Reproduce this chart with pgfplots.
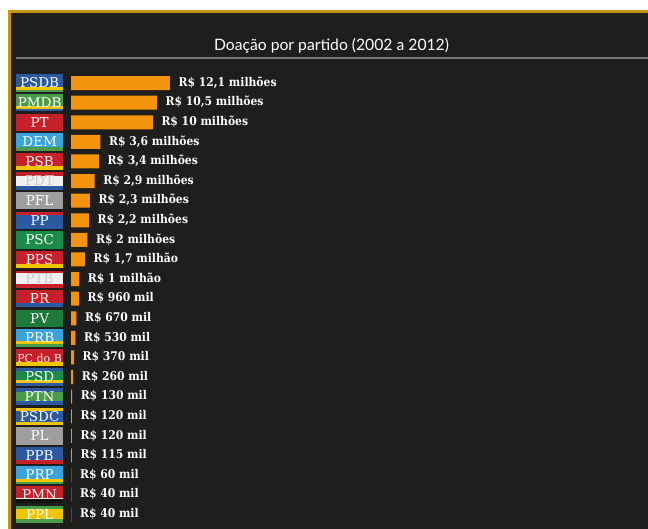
\documentclass[border=0pt]{standalone}
\usepackage{pgfplots}
\pgfplotsset{compat=1.18}
\usepackage{pgfplotstable}
\usepackage{fontspec}
\setmainfont{DejaVu Serif}
\newfontfamily\latofont{Lato}
\IfFontExistsTF{DejaVu Serif Condensed}{%
  \newfontfamily\slab{DejaVu Serif Condensed}\newcommand\slabsize{12}}{%
  \newfontfamily\slab{DejaVu Serif}\newcommand\slabsize{11}}
\definecolor{panel}{HTML}{1E1E1C}
\definecolor{gold}{HTML}{C8940C}
\definecolor{barorange}{HTML}{F4940C}
\definecolor{rulegray}{HTML}{7A7A7A}
\definecolor{pblue}{HTML}{2B5AA3}
\definecolor{pyellow}{HTML}{F2C500}
\definecolor{pgreen}{HTML}{4A9C48}
\definecolor{pgreenb}{HTML}{1A8C48}
\definecolor{pgreenc}{HTML}{1D7A3C}
\definecolor{pred}{HTML}{C8202A}
\definecolor{plblue}{HTML}{3BA3DC}
\definecolor{pgray}{HTML}{9E9E9E}
\definecolor{pwhite}{HTML}{F0F0F0}
\definecolor{pblack}{HTML}{111111}
\newcommand\stripe[2]{{\color{#1}\hrule height #2bp depth 0pt width 47bp}}
\newcommand\flag[3][13.5]{\rlap{\vbox{\offinterlineskip #2}}%
  \makebox[47bp][c]{\raisebox{4bp}{\color{white}\fontsize{#1bp}{#1bp}\selectfont #3}}}

\pgfplotstableread[col sep=semicolon]{
r;v;lab
22;12.1;R\$ 12,1 milhões
21;10.5;R\$ 10,5 milhões
20;10;R\$ 10 milhões
19;3.6;R\$ 3,6 milhões
18;3.4;R\$ 3,4 milhões
17;2.9;R\$ 2,9 milhões
16;2.3;R\$ 2,3 milhões
15;2.2;R\$ 2,2 milhões
14;2;R\$ 2 milhões
13;1.7;R\$ 1,7 milhão
12;1;R\$ 1 milhão
11;0.96;R\$ 960 mil
10;0.67;R\$ 670 mil
9;0.53;R\$ 530 mil
8;0.37;R\$ 370 mil
7;0.26;R\$ 260 mil
6;0.13;R\$ 130 mil
5;0.12;R\$ 120 mil
4;0.12;R\$ 120 mil
3;0.115;R\$ 115 mil
2;0.06;R\$ 60 mil
1;0.04;R\$ 40 mil
0;0.04;R\$ 40 mil
}\doacoes

\begin{document}
\begin{tikzpicture}[x=1bp,y=1bp]
\useasboundingbox (0,0) rectangle (648,529);
\fill[white] (0,0) rectangle (648,529);
\fill[panel] (8,0) rectangle (648,518);
\draw[gold, line width=2.5bp] (9.25,0) -- (9.25,517.5) -- (648,517.5);
\node[text=white, font=\latofont\fontsize{15.7bp}{18bp}\selectfont] at (331.5,483.5) {Doação por partido (2002 a 2012)};
\draw[rulegray, line width=2bp] (16,471) -- (648,471);
\begin{axis}[
  anchor=origin, at={(71bp,14.7bp)},
  x=8.18bp, y=19.6bp,
  xmin=0, xmax=50, ymin=-0.5, ymax=22.5,
  clip=false,
  axis line style={draw=none},
  tick style={draw=none},
  major tick length=0pt,
  xtick=\empty,
  ytick={0,1,...,22},
  yticklabels={
    {\flag{\stripe{pgreen}{3.5}\stripe{pyellow}{10}\stripe{pgreen}{4}}{PPL}},
    {\flag{\stripe{pred}{12.5}\stripe{pwhite}{0.6}\stripe{pblack}{4.4}}{PMN}},
    {\flag{\stripe{plblue}{12.5}\stripe{pyellow}{3}\stripe{pgreen}{2}}{PRP}},
    {\flag{\stripe{pblue}{13.5}\stripe{pred}{4}}{PPB}},
    {\flag{\stripe{pgray}{17.5}}{PL}},
    {\flag{\stripe{pyellow}{3}\stripe{pblue}{11.5}\stripe{pyellow}{3}}{PSDC}},
    {\flag{\stripe{pblue}{4.5}\stripe{pgreen}{8.5}\stripe{pblue}{4.5}}{PTN}},
    {\flag{\stripe{pblue}{2.5}\stripe{pgreenb}{9}\stripe{pyellow}{3.5}\stripe{pblue}{2.5}}{PSD}},
    {\flag[11]{\stripe{pred}{13}\stripe{pyellow}{4.5}}{PC do B}},
    {\flag{\stripe{plblue}{11.5}\stripe{pyellow}{3.5}\stripe{pgreen}{2.5}}{PRB}},
    {\flag{\stripe{pgreenc}{17.5}}{PV}},
    {\flag{\stripe{pred}{13.5}\stripe{pblue}{4}}{PR}},
    {\flag{\stripe{pblack}{1}\stripe{pred}{1.5}\stripe{pwhite}{11}\stripe{pred}{4}}{\color{white!80!black}PTB}},
    {\flag{\stripe{pred}{13.5}\stripe{pyellow}{4}}{PPS}},
    {\flag{\stripe{pgreenb}{17.5}}{PSC}},
    {\flag{\stripe{pred}{3}\stripe{pblue}{14.5}}{PP}},
    {\flag{\stripe{pgray}{17.5}}{PFL}},
    {\flag{\stripe{pred}{3.5}\stripe{pwhite}{10}\stripe{pblue}{4}}{\color{white!80!black}PDT}},
    {\flag{\stripe{pred}{13}\stripe{pyellow}{4.5}}{PSB}},
    {\flag{\stripe{plblue}{14}\stripe{pgreen}{3.5}}{DEM}},
    {\flag{\stripe{pred}{17.5}}{PT}},
    {\flag{\stripe{pgreen}{12.5}\stripe{pyellow}{3}\stripe{pblue}{2}}{PMDB}},
    {\flag{\stripe{pblue}{12.5}\stripe{pyellow}{3.5}\stripe{pgreen}{1.5}}{PSDB}}
  },
  yticklabel style={anchor=east, inner sep=0pt, xshift=-7.7bp},
  xbar, bar width=14bp, bar shift=0pt,
  point meta=explicit symbolic,
  nodes near coords,
  every node near coord/.append style={anchor=west, inner sep=0pt, xshift=8.5bp,
     text=white, font=\slab\bfseries\fontsize{\slabsize bp}{13bp}\selectfont,
     text height=9bp, text depth=2.5bp},
]
\addplot[fill=barorange, draw=none] table[x=v, y=r, meta=lab] {\doacoes};
\end{axis}
\end{tikzpicture}
\end{document}
